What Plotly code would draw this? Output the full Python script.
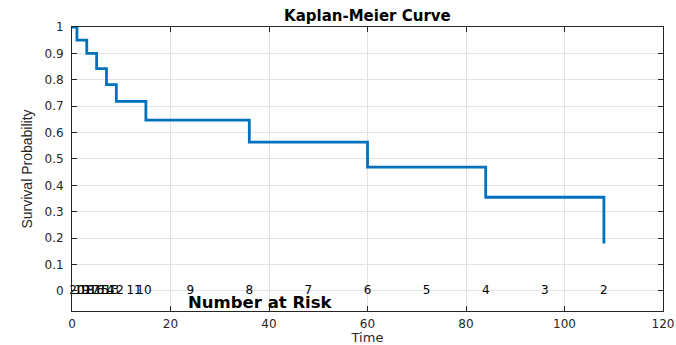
import plotly.graph_objects as go

# Kaplan-Meier step data
times = [0, 1, 3, 5, 7, 9, 15, 36, 60, 84, 108]
survival = [1.0, 0.95, 0.9, 0.842, 0.782, 0.718, 0.647, 0.564, 0.469, 0.355, 0.18]

# Number at risk labels
risk_times = [1, 2, 3, 4, 5, 6, 7, 8, 9, 12.6, 14.6, 24, 36, 48, 60, 72, 84, 96, 108]
risk_counts = [20, 19, 18, 17, 16, 15, 14, 13, 12, 11, 10, 9, 8, 7, 6, 5, 4, 3, 2]

x_ticks = [0, 20, 40, 60, 80, 100, 120]
y_ticks = [0, 0.1, 0.2, 0.3, 0.4, 0.5, 0.6, 0.7, 0.8, 0.9, 1]

FONT = "DejaVu Sans, Liberation Sans, Arial"

fig = go.Figure()
fig.add_trace(go.Scatter(
    x=times, y=survival, mode="lines", line=dict(shape="hv", color="#0072BD", width=2.8),
    showlegend=False, hoverinfo="skip", cliponaxis=True,
))
fig.add_trace(go.Scatter(
    x=risk_times, y=[0] * len(risk_times), mode="text",
    text=[str(c) for c in risk_counts], textposition="middle center",
    textfont=dict(family=FONT, size=12, color="#000000"),
    showlegend=False, hoverinfo="skip", cliponaxis=False,
))
fig.add_annotation(x=38.3, y=-0.044, xref="x", yref="y", text="<b>Number at Risk</b>",
                   showarrow=False, font=dict(family=FONT, size=16.5, color="#000000"))

axis_common = dict(
    showgrid=True, gridcolor="#e3e3e3", gridwidth=1,
    showline=True, linecolor="#262626", linewidth=1, mirror="ticks",
    ticks="inside", ticklen=5, tickcolor="#262626", automargin=False,
    tickfont=dict(family=FONT, size=12, color="#262626"), zeroline=False,
)

fig.update_layout(
    width=676, height=345,
    margin=dict(l=72, r=13, t=27, b=34, autoexpand=False),
    paper_bgcolor="white", plot_bgcolor="white",
    title=dict(text="<b>Kaplan-Meier Curve</b>", x=0.5435, xanchor="center", y=0.955, yanchor="middle",
               font=dict(family=FONT, size=15, color="#000000")),
    xaxis=dict(range=[0, 120], tickvals=x_ticks, ticktext=[str(v) for v in x_ticks],
               title=dict(text="Time", standoff=3, font=dict(family=FONT, size=13, color="#262626")),
               ticklabelstandoff=2, **axis_common),
    yaxis=dict(range=[-0.076, 1.0], tickvals=y_ticks, ticktext=[f"{v:g}" for v in y_ticks],
               title=dict(text="Survival Probability", standoff=8,
                          font=dict(family="Liberation Sans Narrow, Arial Narrow, Liberation Sans", size=14, color="#262626")),
               ticklabelstandoff=5, **axis_common),
)

fig.write_html("out.html")
